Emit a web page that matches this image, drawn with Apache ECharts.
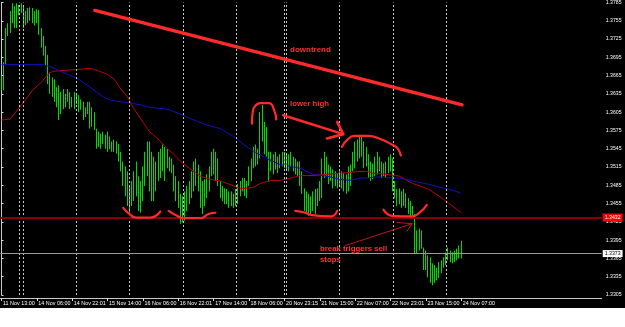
<!DOCTYPE html>
<html><head><meta charset="utf-8">
<script src="https://cdn.jsdelivr.net/npm/echarts@6/dist/echarts.min.js"></script>
<style>html,body{margin:0;padding:0;background:#fff}#c{width:625px;height:327px}</style>
</head><body><div id="c"></div>
<script>
// ---- time axis ----
const tickLabels = ['11 Nov 13:00','14 Nov 06:00','14 Nov 22:01','15 Nov 14:00','16 Nov 06:00','16 Nov 22:01','17 Nov 14:00','18 Nov 06:00','20 Nov 23:15','21 Nov 15:00','22 Nov 07:00','22 Nov 23:01','23 Nov 15:00','24 Nov 07:00'];
const barsPerTick = 16;
const slotCount = 272;            // visible bar slots incl. empty chart shift on the right
const dayStarts = [8,10,34,58,82,106,128,129,153,177,201];
const priceLines = [1.3432, 1.3373];
const priceLineLabels = ['1.3432','1.3373'];

// ---- OHLC (EURUSD H1) ----
const openP = [1.3646,1.3662,1.3683,1.3738,1.3748,1.3764,1.3776,1.3751,1.3777,1.3768,1.3779,1.3748,1.3768,1.3760,1.3774,1.3755,1.3768,1.3755,1.3735,1.3714,1.3703,1.3687,1.3657,1.3641,1.3654,1.3626,1.3638,1.3605,1.3630,1.3622,1.3630,1.3635,1.3617,1.3625,1.3630,1.3622,1.3613,1.3618,1.3597,1.3609,1.3617,1.3589,1.3605,1.3578,1.3553,1.3565,1.3557,1.3568,1.3548,1.3565,1.3547,1.3553,1.3544,1.3552,1.3529,1.3516,1.3488,1.3505,1.3459,1.3475,1.3459,1.3500,1.3484,1.3451,1.3484,1.3508,1.3532,1.3548,1.3484,1.3524,1.3475,1.3516,1.3532,1.3508,1.3544,1.3516,1.3532,1.3511,1.3519,1.3484,1.3467,1.3459,1.3430,1.3459,1.3443,1.3475,1.3484,1.3500,1.3516,1.3492,1.3508,1.3454,1.3484,1.3467,1.3495,1.3508,1.3532,1.3516,1.3527,1.3488,1.3472,1.3479,1.3459,1.3472,1.3451,1.3467,1.3454,1.3472,1.3480,1.3487,1.3492,1.3472,1.3487,1.3511,1.3524,1.3544,1.3524,1.3540,1.3597,1.3573,1.3581,1.3540,1.3524,1.3532,1.3511,1.3532,1.3516,1.3527,1.3532,1.3521,1.3532,1.3516,1.3529,1.3516,1.3524,1.3505,1.3488,1.3475,1.3451,1.3467,1.3443,1.3459,1.3451,1.3472,1.3459,1.3484,1.3524,1.3508,1.3516,1.3492,1.3508,1.3487,1.3500,1.3488,1.3500,1.3484,1.3495,1.3479,1.3508,1.3516,1.3537,1.3548,1.3540,1.3557,1.3540,1.3524,1.3532,1.3505,1.3516,1.3500,1.3524,1.3516,1.3524,1.3505,1.3516,1.3508,1.3524,1.3527,1.3484,1.3472,1.3459,1.3475,1.3454,1.3467,1.3451,1.3443,1.3451,1.3435,1.3381,1.3402,1.3394,1.3383,1.3354,1.3370,1.3342,1.3354,1.3329,1.3346,1.3337,1.3354,1.3359,1.3362,1.3370,1.3378,1.3365,1.3370,1.3365,1.3378,1.3381];
const highP = [1.3665,1.3687,1.3743,1.3751,1.3771,1.3784,1.3779,1.3784,1.3781,1.3784,1.3781,1.3771,1.3776,1.3777,1.3776,1.3771,1.3774,1.3773,1.3743,1.3730,1.3714,1.3699,1.3670,1.3662,1.3659,1.3646,1.3649,1.3638,1.3643,1.3635,1.3643,1.3638,1.3630,1.3638,1.3635,1.3633,1.3626,1.3622,1.3613,1.3622,1.3622,1.3613,1.3605,1.3578,1.3573,1.3570,1.3573,1.3568,1.3573,1.3565,1.3557,1.3560,1.3557,1.3553,1.3540,1.3524,1.3516,1.3508,1.3484,1.3492,1.3508,1.3524,1.3500,1.3492,1.3516,1.3540,1.3557,1.3557,1.3540,1.3532,1.3524,1.3540,1.3545,1.3552,1.3548,1.3545,1.3532,1.3529,1.3519,1.3500,1.3492,1.3471,1.3467,1.3475,1.3484,1.3492,1.3508,1.3524,1.3529,1.3519,1.3508,1.3492,1.3495,1.3503,1.3516,1.3540,1.3545,1.3540,1.3529,1.3492,1.3484,1.3480,1.3479,1.3475,1.3475,1.3471,1.3479,1.3487,1.3492,1.3497,1.3497,1.3492,1.3516,1.3529,1.3548,1.3552,1.3545,1.3605,1.3617,1.3589,1.3581,1.3540,1.3540,1.3536,1.3540,1.3532,1.3536,1.3540,1.3540,1.3537,1.3536,1.3540,1.3532,1.3529,1.3524,1.3524,1.3508,1.3480,1.3475,1.3471,1.3467,1.3475,1.3479,1.3480,1.3492,1.3529,1.3540,1.3532,1.3519,1.3516,1.3511,1.3508,1.3505,1.3508,1.3508,1.3505,1.3503,1.3516,1.3519,1.3540,1.3557,1.3560,1.3565,1.3568,1.3557,1.3548,1.3536,1.3524,1.3521,1.3532,1.3540,1.3532,1.3524,1.3521,1.3524,1.3532,1.3536,1.3529,1.3492,1.3479,1.3480,1.3475,1.3479,1.3472,1.3464,1.3459,1.3451,1.3438,1.3411,1.3414,1.3411,1.3383,1.3378,1.3370,1.3367,1.3357,1.3354,1.3350,1.3359,1.3362,1.3367,1.3375,1.3383,1.3378,1.3375,1.3378,1.3381,1.3386,1.3394];
const lowP = [1.3641,1.3641,1.3683,1.3730,1.3735,1.3751,1.3743,1.3743,1.3764,1.3768,1.3743,1.3748,1.3751,1.3755,1.3751,1.3747,1.3751,1.3732,1.3711,1.3698,1.3682,1.3651,1.3635,1.3630,1.3622,1.3613,1.3592,1.3602,1.3610,1.3613,1.3622,1.3610,1.3613,1.3610,1.3618,1.3605,1.3609,1.3592,1.3597,1.3602,1.3578,1.3581,1.3576,1.3545,1.3548,1.3545,1.3553,1.3545,1.3540,1.3544,1.3540,1.3540,1.3537,1.3524,1.3508,1.3484,1.3467,1.3451,1.3440,1.3451,1.3459,1.3467,1.3443,1.3440,1.3459,1.3484,1.3500,1.3475,1.3459,1.3459,1.3475,1.3492,1.3497,1.3508,1.3492,1.3513,1.3508,1.3505,1.3475,1.3459,1.3448,1.3422,1.3424,1.3427,1.3443,1.3454,1.3464,1.3475,1.3484,1.3475,1.3448,1.3438,1.3451,1.3464,1.3475,1.3500,1.3503,1.3492,1.3484,1.3464,1.3459,1.3454,1.3454,1.3448,1.3451,1.3448,1.3451,1.3454,1.3467,1.3475,1.3467,1.3464,1.3484,1.3492,1.3513,1.3516,1.3519,1.3529,1.3557,1.3536,1.3532,1.3492,1.3508,1.3503,1.3511,1.3505,1.3513,1.3516,1.3513,1.3511,1.3508,1.3516,1.3508,1.3503,1.3500,1.3484,1.3471,1.3443,1.3438,1.3435,1.3438,1.3443,1.3438,1.3451,1.3459,1.3464,1.3497,1.3500,1.3487,1.3492,1.3480,1.3484,1.3480,1.3484,1.3480,1.3475,1.3471,1.3475,1.3484,1.3508,1.3513,1.3524,1.3529,1.3532,1.3513,1.3516,1.3497,1.3492,1.3495,1.3500,1.3503,1.3508,1.3497,1.3500,1.3497,1.3505,1.3508,1.3475,1.3464,1.3451,1.3454,1.3448,1.3451,1.3448,1.3438,1.3432,1.3432,1.3373,1.3373,1.3378,1.3381,1.3346,1.3346,1.3334,1.3325,1.3321,1.3325,1.3329,1.3333,1.3341,1.3350,1.3354,1.3362,1.3359,1.3357,1.3359,1.3362,1.3365,1.3365];
const closeP = [1.3662,1.3683,1.3738,1.3748,1.3764,1.3776,1.3751,1.3777,1.3768,1.3779,1.3748,1.3768,1.3760,1.3774,1.3755,1.3768,1.3755,1.3735,1.3714,1.3703,1.3687,1.3657,1.3641,1.3654,1.3626,1.3638,1.3605,1.3630,1.3622,1.3630,1.3635,1.3617,1.3625,1.3630,1.3622,1.3613,1.3622,1.3597,1.3609,1.3617,1.3589,1.3605,1.3578,1.3553,1.3565,1.3548,1.3568,1.3548,1.3565,1.3547,1.3553,1.3544,1.3552,1.3529,1.3516,1.3488,1.3508,1.3459,1.3475,1.3459,1.3500,1.3484,1.3451,1.3484,1.3508,1.3532,1.3548,1.3484,1.3524,1.3467,1.3516,1.3532,1.3508,1.3544,1.3505,1.3540,1.3511,1.3524,1.3484,1.3467,1.3459,1.3430,1.3459,1.3435,1.3475,1.3484,1.3500,1.3516,1.3492,1.3511,1.3454,1.3484,1.3462,1.3495,1.3508,1.3532,1.3516,1.3527,1.3488,1.3472,1.3479,1.3459,1.3472,1.3451,1.3467,1.3454,1.3472,1.3480,1.3487,1.3492,1.3472,1.3487,1.3511,1.3524,1.3544,1.3524,1.3540,1.3597,1.3573,1.3581,1.3540,1.3524,1.3532,1.3511,1.3532,1.3516,1.3527,1.3532,1.3521,1.3532,1.3516,1.3529,1.3516,1.3524,1.3505,1.3488,1.3475,1.3451,1.3467,1.3443,1.3459,1.3451,1.3472,1.3459,1.3484,1.3524,1.3508,1.3524,1.3492,1.3508,1.3487,1.3500,1.3488,1.3500,1.3484,1.3495,1.3479,1.3508,1.3516,1.3537,1.3548,1.3540,1.3557,1.3540,1.3524,1.3540,1.3505,1.3516,1.3500,1.3524,1.3516,1.3524,1.3505,1.3516,1.3508,1.3524,1.3527,1.3484,1.3472,1.3459,1.3475,1.3454,1.3467,1.3451,1.3443,1.3451,1.3435,1.3381,1.3402,1.3394,1.3386,1.3354,1.3370,1.3342,1.3354,1.3329,1.3346,1.3337,1.3354,1.3359,1.3362,1.3370,1.3378,1.3365,1.3370,1.3365,1.3378,1.3381,1.3373];

// ---- moving averages (sampled along the drawn curves) ----
const redMAIdx = [0,4,9,11,14,18,21,23,30,34,40,43,48,51,54,57,60,63,66,67,72,75,78,81,85,90,94,99,103,108,111,114,117,122,126,131,135,141,147,153,158,162,165,168,174,180,186,193,198,204,208];
const redMAVal = [1.3592,1.3594,1.3617,1.3626,1.3641,1.3654,1.3667,1.3672,1.3674,1.3675,1.3677,1.3674,1.3667,1.3659,1.3643,1.3630,1.3610,1.3594,1.3578,1.3573,1.3557,1.3545,1.3536,1.3524,1.3513,1.3500,1.3495,1.3492,1.3487,1.3480,1.3480,1.3482,1.3488,1.3493,1.3493,1.3497,1.3501,1.3501,1.3503,1.3505,1.3506,1.3508,1.3508,1.3505,1.3503,1.3500,1.3488,1.3479,1.3467,1.3451,1.3440];
const blueMAIdx = [0,9,19,22,25,30,34,39,43,46,49,52,58,63,67,75,81,87,93,99,105,111,116,120,126,131,135,141,147,153,158,162,165,171,177,180,186,193,198,204,208];
const blueMAVal = [1.3683,1.3683,1.3683,1.3680,1.3675,1.3667,1.3661,1.3649,1.3638,1.3630,1.3625,1.3623,1.3620,1.3617,1.3613,1.3610,1.3602,1.3592,1.3584,1.3578,1.3565,1.3548,1.3537,1.3529,1.3519,1.3516,1.3513,1.3503,1.3500,1.3495,1.3493,1.3497,1.3497,1.3499,1.3497,1.3497,1.3492,1.3487,1.3482,1.3477,1.3472];

// ---- hand drawn annotations, in (bar index, price) ----
const trendLine = [[42.2,1.3772],[208.35,1.3617]];
const peakArc1 = [[113.28,1.3586],[113.74,1.3608],[115.2,1.3617],[117.04,1.3620],[121.1,1.3620],[123.37,1.3608],[124.27,1.3593]];
const peakArc2 = [[153.97,1.3548],[156.23,1.3559],[159.53,1.3566],[165.99,1.3566],[171.28,1.3561],[176.57,1.3552],[179.1,1.3546],[180.64,1.3534]];
const base1 = [[55.1,1.3448],[57.82,1.3438],[60.98,1.3432],[67.31,1.3432],[71.83,1.3442]];
const base2 = [[75.58,1.3443],[79.38,1.3435],[82.36,1.3431],[89.91,1.3431],[93.66,1.3438],[96.69,1.3440]];
const base3 = [[132.86,1.3443],[137.38,1.3440],[140.54,1.3436],[149.13,1.3434],[151.84,1.3443]];
const base4 = [[172.77,1.3445],[176.57,1.3435],[185.61,1.3434],[189.37,1.3441],[192.4,1.3453]];
const lhArrow = [[127.43,1.3600],[154.56,1.3569]];
const lhHead = [[151.85,1.3589],[154.56,1.3569],[147.19,1.3562]];
const brkArrow = [[155.46,1.3386],[185.75,1.3422]];
const brkHead = [[178.97,1.3424],[185.75,1.3422],[183.49,1.3410]];

const FONT = '"Liberation Sans", Arial, sans-serif';
const categories = Array.from({length: slotCount}, (_, i) => String(i));
const ohlc = openP.map((o, i) => [o, closeP[i], lowP[i], highP[i]]);
const zip = (a, b) => a.map((v, i) => [v, b[i]]);
const showTick = (i) => i % barsPerTick === 0 && (i / barsPerTick) < tickLabels.length;

function annot(pts, color, width, smooth) {
  return {type:'line', xAxisIndex:1, yAxisIndex:0, data:pts, symbol:'none', smooth:smooth||false,
    lineStyle:{color:color, width:width, cap:'round', join:'round'}, silent:true, z:6};
}
const ANN = '#ff2b2b';

const sepLines = dayStarts.map(i => ({xAxis:i, lineStyle:{type:[2,2], color:'#c8c8c8', width:1}, label:{show:false}}));
const hLines = [
  {yAxis:priceLines[0], lineStyle:{type:'solid', color:'#860000', width:2},
    label:{show:true, position:'end', distance:1, formatter:priceLineLabels[0], color:'#fff', backgroundColor:'#ff0000', padding:[2,2,1,2], fontSize:5.2, fontFamily:FONT}},
  {yAxis:priceLines[1], lineStyle:{type:'solid', color:'#9a9a9a', width:1},
    label:{show:true, position:'end', distance:1, formatter:priceLineLabels[1], color:'#000', backgroundColor:'#fff', padding:[1,2,1,2], fontSize:5.2, fontFamily:FONT}}
];

const chart = echarts.init(document.getElementById('c'), null, {renderer:'canvas', width:625, height:327});
chart.setOption({
  animation:false,
  backgroundColor:'#000',
  grid:{left:0, top:-1, width:601.7, height:296},
  xAxis:[{
    type:'category', data:categories, boundaryGap:true, offset:3,
    axisLine:{show:true, lineStyle:{color:'#c8c8c8', width:1}},
    axisTick:{show:true, alignWithLabel:true, interval:showTick, length:3, lineStyle:{color:'#e0e0e0'}},
    axisLabel:{interval:showTick, color:'#fff', fontSize:5.4, fontFamily:FONT, align:'left', margin:3, padding:[0,0,0,1.5],
      formatter:(v, i) => showTick(i) ? tickLabels[i / barsPerTick] : ''},
    splitLine:{show:false}
  },{
    type:'value', min:-0.5, max:slotCount-0.5, show:false
  }],
  yAxis:{
    type:'value', position:'right', min:1.3305, max:1.3785, interval:0.003,
    axisLine:{show:true, lineStyle:{color:'#c8c8c8', width:1}},
    axisTick:{show:true, length:2, lineStyle:{color:'#e0e0e0'}},
    axisLabel:{color:'#fff', fontSize:5.2, fontFamily:FONT, margin:4, formatter:v => v.toFixed(4)},
    splitLine:{show:false}
  },
  series:[
    {type:'candlestick', data:ohlc, barWidth:1.3, z:3,
      itemStyle:{color:'#005500', color0:'#d8d8d8', borderColor:'#00f000', borderColor0:'#00f000', borderWidth:0.9},
      markLine:{silent:true, precision:4, symbol:['none','none'], animation:false, data: sepLines.concat(hLines)}
    },
    {type:'line', xAxisIndex:1, data:zip(redMAIdx, redMAVal), symbol:'none', lineStyle:{color:'#c00000', width:1}, z:4},
    {type:'line', xAxisIndex:1, data:zip(blueMAIdx, blueMAVal), symbol:'none', lineStyle:{color:'#1010c0', width:1}, z:4},
    annot(trendLine, ANN, 3.3),
    annot(peakArc1, ANN, 2.2, 0.5),
    annot(peakArc2, ANN, 2.2, 0.5),
    annot(base1, ANN, 2.2, 0.5),
    annot(base2, ANN, 2.2, 0.5),
    annot(base3, ANN, 2.2, 0.5),
    annot(base4, ANN, 2.2, 0.5),
    annot(lhArrow, ANN, 2.6),
    annot(lhHead, ANN, 2.6),
    annot(brkArrow, '#c01818', 1),
    annot(brkHead, '#c01818', 1)
  ],
  graphic:[
    {type:'rect', shape:{x:0, y:308, width:625, height:19}, style:{fill:'#fff'}, z:100},
    {type:'text', x:290, y:50, z:50, style:{text:'downtrend', fill:'#ff3030', font:'bold 8px ' + FONT, verticalAlign:'middle'}},
    {type:'text', x:290, y:104, z:50, style:{text:'lower high', fill:'#ff3030', font:'bold 7.8px ' + FONT, verticalAlign:'middle'}},
    {type:'text', x:320, y:249, z:50, style:{text:'break triggers sell', fill:'#ff3030', font:'bold 7.8px ' + FONT, verticalAlign:'middle'}},
    {type:'text', x:320, y:260, z:50, style:{text:'stops', fill:'#ff3030', font:'bold 7.8px ' + FONT, verticalAlign:'middle'}}
  ]
});
</script></body></html>
